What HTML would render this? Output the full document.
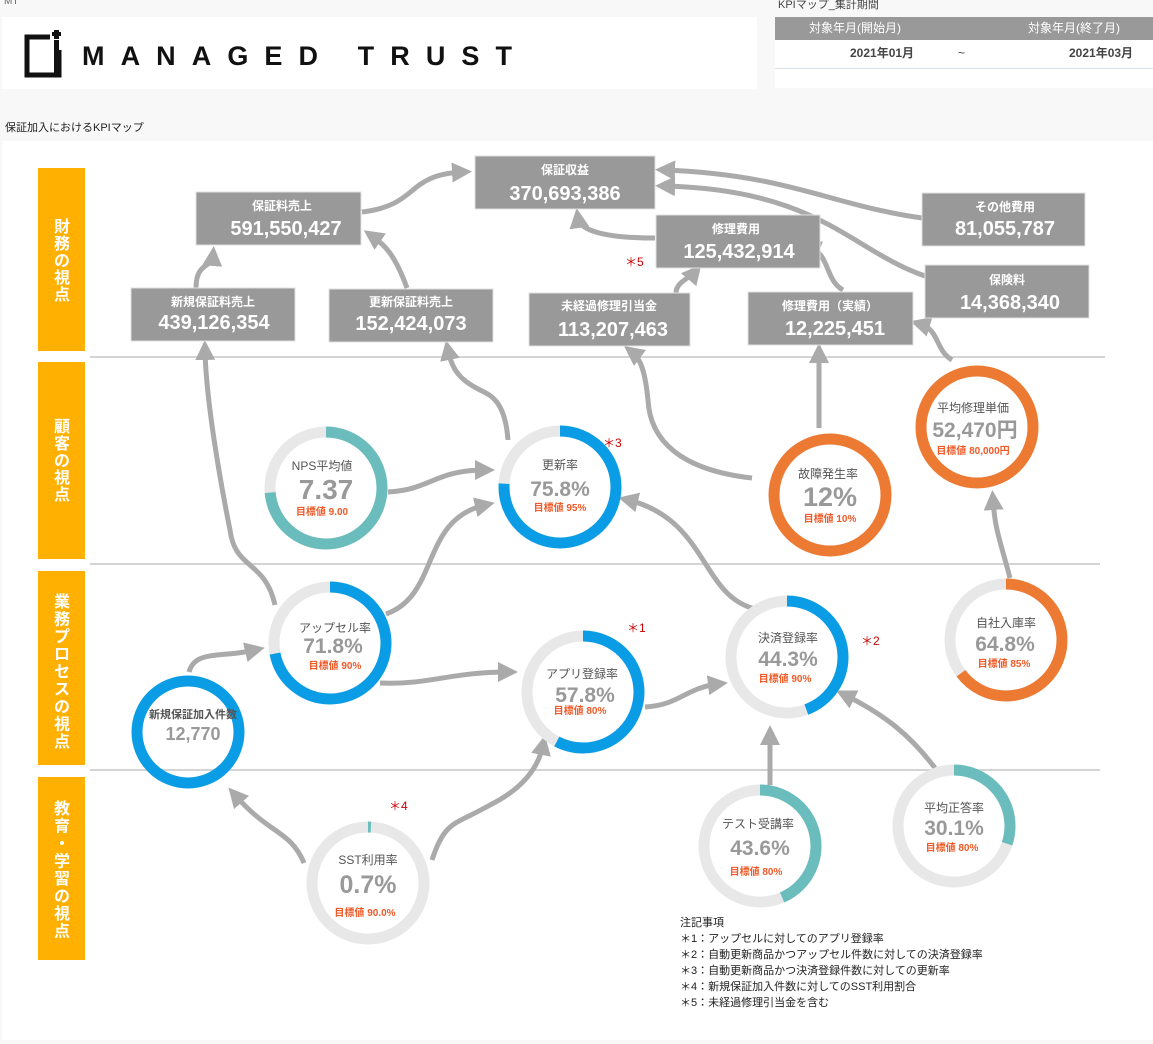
<!DOCTYPE html>
<html><head><meta charset="utf-8"><style>
body{margin:0;width:1153px;height:1044px;background:#f8f8f8;font-family:"Liberation Sans","Noto Sans CJK JP",sans-serif;overflow:hidden;position:relative}
.a{position:absolute}
</style></head><body>
<div class="a" style="left:4px;top:-4px;font-size:10px;color:#666">MT</div>
<div class="a" style="left:2px;top:17px;width:755px;height:72px;background:#fff"></div>
<svg class="a" style="left:22px;top:30px" width="520" height="50">
<rect x="5" y="7" width="32" height="38" fill="none" stroke="#111" stroke-width="5"/>
<rect x="28" y="0" width="14" height="20" fill="#fff"/>
<rect x="32" y="10" width="5" height="37" fill="#111"/>
<rect x="30" y="2" width="9" height="4" fill="#111"/><rect x="32" y="0" width="5" height="9" fill="#111"/>
<text x="60" y="35" font-family="Liberation Sans,sans-serif" font-size="27" font-weight="bold" textLength="430" lengthAdjust="spacing" fill="#111">MANAGED TRUST</text>
</svg>
<div class="a" style="left:778px;top:-4px;font-size:11px;color:#444">KPIマップ_集計期間</div>
<div class="a" style="left:775px;top:17px;width:378px;height:71px;background:#fff"></div>
<div class="a" style="left:775px;top:17px;width:378px;height:23px;background:#999;color:#fff;font-size:12px;line-height:23px"><span class="a" style="left:34px">対象年月(開始月)</span><span class="a" style="left:253px">対象年月(終了月)</span></div>
<div class="a" style="left:775px;top:40px;width:378px;height:28px;border-bottom:1px solid #dde3ea;font-size:12px;font-weight:bold;color:#444;line-height:26px"><span class="a" style="left:75px">2021年01月</span><span class="a" style="left:183px;font-weight:normal">~</span><span class="a" style="left:294px">2021年03月</span></div>
<div class="a" style="left:5px;top:119px;font-size:11px;color:#222">保証加入におけるKPIマップ</div>
<div class="a" style="left:2px;top:141px;width:1151px;height:899px;background:#fff"></div>
<svg class="a" style="left:0;top:0" width="1153" height="1044">
<defs><marker id="m" markerWidth="4" markerHeight="4" refX="2" refY="2" orient="auto" markerUnits="strokeWidth"><path d="M0,0 L4,2 L0,4Z" fill="#aaa"/></marker></defs>
<g fill="#FFB000">
<rect x="38" y="168" width="47" height="183"/><rect x="38" y="362" width="47" height="197"/><rect x="38" y="571" width="47" height="194"/><rect x="38" y="777" width="47" height="183"/></g>
<g fill="#fff" font-weight="bold" font-size="16" text-anchor="middle">
<text><tspan x="62" y="232">財</tspan><tspan x="62" dy="17">務</tspan><tspan x="62" dy="17">の</tspan><tspan x="62" dy="17">視</tspan><tspan x="62" dy="17">点</tspan></text>
<text><tspan x="62" y="432">顧</tspan><tspan x="62" dy="17">客</tspan><tspan x="62" dy="17">の</tspan><tspan x="62" dy="17">視</tspan><tspan x="62" dy="17">点</tspan></text>
<text><tspan x="62" y="607">業</tspan><tspan x="62" dy="17.5">務</tspan><tspan x="62" dy="17.5">プ</tspan><tspan x="62" dy="17.5">ロ</tspan><tspan x="62" dy="17.5">セ</tspan><tspan x="62" dy="17.5">ス</tspan><tspan x="62" dy="17.5">の</tspan><tspan x="62" dy="17.5">視</tspan><tspan x="62" dy="17.5">点</tspan></text>
<text><tspan x="62" y="814">教</tspan><tspan x="62" dy="17.5">育</tspan><tspan x="62" dy="17.5">・</tspan><tspan x="62" dy="17.5">学</tspan><tspan x="62" dy="17.5">習</tspan><tspan x="62" dy="17.5">の</tspan><tspan x="62" dy="17.5">視</tspan><tspan x="62" dy="17.5">点</tspan></text>
</g>
<g stroke="#d4d4d4" stroke-width="2"><line x1="90" y1="357" x2="1105" y2="357"/><line x1="90" y1="564" x2="1100" y2="564"/><line x1="90" y1="770" x2="1100" y2="770"/></g>
<g fill="none" stroke="#aaa" stroke-width="5" marker-end="url(#m)">
<path d="M362,212 C420,205 405,175 462,172"/>
<path d="M196,288 C196,262 212,268 213,256"/>
<path d="M407,288 C395,255 385,245 372,236"/>
<path d="M655,238 C610,238 580,232 578,218"/>
<path d="M922,218 C830,205 790,175 665,170"/>
<path d="M925,276 C850,250 820,190 665,186"/>
<path d="M843,290 C825,280 830,255 810,247"/>
<path d="M676,293 C676,282 690,278 695,272"/>
<path d="M952,360 C935,350 940,330 920,324"/>
<path d="M819,428 L819,353"/>
<path d="M752,478 C680,470 650,440 648,400 C645,370 640,358 632,352"/>
<path d="M508,440 C505,400 490,395 480,390 C460,380 452,370 448,350"/>
<path d="M388,492 C430,490 435,470 485,470"/>
<path d="M275,605 C265,560 235,570 230,530 C220,480 206,400 205,350"/>
<path d="M386,614 C440,595 420,520 485,505"/>
<path d="M380,683 C430,685 450,672 508,672"/>
<path d="M189,672 C195,650 220,658 255,650"/>
<path d="M304,863 C290,830 270,835 235,795"/>
<path d="M432,860 C445,820 455,825 490,805 C530,785 540,760 543,745"/>
<path d="M645,707 C680,705 685,688 718,684"/>
<path d="M760,610 C700,600 710,520 628,500"/>
<path d="M770,785 L770,735"/>
<path d="M935,768 C910,735 885,715 845,695"/>
<path d="M1010,578 C1000,540 995,530 993,500"/>
</g>
<g fill="#999" stroke="#e0e0e0">
<rect x="475" y="156" width="180" height="53"/><rect x="196" y="192" width="165" height="53"/>
<rect x="131" y="288" width="164" height="53"/><rect x="329" y="289" width="164" height="53"/>
<rect x="529" y="293" width="161" height="53"/><rect x="656" y="215" width="164" height="53"/>
<rect x="748" y="292" width="165" height="53"/><rect x="922" y="193" width="163" height="53"/>
<rect x="925" y="265" width="164" height="53"/></g>
<g fill="#fff" font-weight="bold" text-anchor="middle">
<g font-size="12"><text x="565" y="174">保証収益</text><text x="282" y="210">保証料売上</text><text x="213" y="306">新規保証料売上</text><text x="411" y="306">更新保証料売上</text><text x="609" y="310">未経過修理引当金</text><text x="736" y="233">修理費用</text><text x="830" y="310">修理費用（実績）</text><text x="1005" y="211">その他費用</text><text x="1007" y="284">保険料</text></g>
<g font-size="20"><text x="565" y="200">370,693,386</text><text x="286" y="235">591,550,427</text><text x="214" y="329">439,126,354</text><text x="411" y="330">152,424,073</text><text x="613" y="336">113,207,463</text><text x="739" y="258">125,432,914</text><text x="835" y="335">12,225,451</text><text x="1005" y="235">81,055,787</text><text x="1010" y="309">14,368,340</text></g>
</g>
<g fill="none" stroke-width="11">
<g stroke="#e8e8e8"><circle cx="326" cy="488" r="56"/><circle cx="560" cy="487" r="56"/><circle cx="330" cy="643" r="56"/><circle cx="583" cy="692" r="56"/><circle cx="787" cy="657" r="56"/><circle cx="1006" cy="640" r="56"/><circle cx="368" cy="883" r="56"/><circle cx="760" cy="846" r="56"/><circle cx="954" cy="826" r="56"/></g>
<circle cx="326" cy="488" r="56" stroke="#6BBCBC" stroke-dasharray="259 400" transform="rotate(-90 326 488)"/>
<circle cx="560" cy="487" r="56" stroke="#0A9DE6" stroke-dasharray="267 400" transform="rotate(-90 560 487)"/>
<circle cx="330" cy="643" r="56" stroke="#0A9DE6" stroke-dasharray="253 400" transform="rotate(-90 330 643)"/>
<circle cx="583" cy="692" r="56" stroke="#0A9DE6" stroke-dasharray="203 400" transform="rotate(-90 583 692)"/>
<circle cx="787" cy="657" r="56" stroke="#0A9DE6" stroke-dasharray="156 400" transform="rotate(-90 787 657)"/>
<circle cx="1006" cy="640" r="56" stroke="#EC7A33" stroke-dasharray="228 400" transform="rotate(-90 1006 640)"/>
<circle cx="368" cy="883" r="56" stroke="#6BBCBC" stroke-dasharray="3 400" transform="rotate(-90 368 883)"/>
<circle cx="760" cy="846" r="56" stroke="#6BBCBC" stroke-dasharray="153 400" transform="rotate(-90 760 846)"/>
<circle cx="954" cy="826" r="56" stroke="#6BBCBC" stroke-dasharray="106 400" transform="rotate(-90 954 826)"/>
<circle cx="830" cy="495" r="56" stroke="#EC7A33"/><circle cx="977" cy="427" r="56" stroke="#EC7A33"/><circle cx="188" cy="732" r="51" stroke="#0A9DE6"/>
</g>
<g text-anchor="middle">
<g fill="#555" font-size="12"><text x="322" y="470">NPS平均値</text><text x="560" y="469">更新率</text><text x="828" y="478">故障発生率</text><text x="973" y="412">平均修理単価</text><text x="335" y="632">アップセル率</text><text x="582" y="678">アプリ登録率</text><text x="788" y="642">決済登録率</text><text x="1006" y="627">自社入庫率</text><text x="193" y="718" font-size="11" font-weight="bold">新規保証加入件数</text><text x="368" y="864">SST利用率</text><text x="758" y="828">テスト受講率</text><text x="954" y="812">平均正答率</text></g>
<g fill="#999" font-weight="bold" font-size="21"><text x="326" y="499" font-size="28">7.37</text><text x="560" y="496">75.8%</text><text x="830" y="506" font-size="27">12%</text><text x="975" y="437">52,470円</text><text x="333" y="653">71.8%</text><text x="585" y="702">57.8%</text><text x="788" y="666">44.3%</text><text x="1005" y="651">64.8%</text><text x="193" y="740" font-size="18">12,770</text><text x="368" y="893" font-size="25">0.7%</text><text x="760" y="855">43.6%</text><text x="954" y="835">30.1%</text></g>
<g fill="#F05A28" font-weight="bold" font-size="10"><text x="322" y="515">目標値 9.00</text><text x="560" y="511">目標値 95%</text><text x="830" y="522">目標値 10%</text><text x="973" y="454">目標値 80,000円</text><text x="335" y="669">目標値 90%</text><text x="580" y="714">目標値 80%</text><text x="785" y="682">目標値 90%</text><text x="1004" y="667">目標値 85%</text><text x="365" y="916">目標値 90.0%</text><text x="756" y="875">目標値 80%</text><text x="952" y="851">目標値 80%</text></g>
</g>
<g fill="#cc0000" font-size="12"><text x="603" y="447">＊3</text><text x="627" y="632">＊1</text><text x="861" y="645">＊2</text><text x="389" y="810">＊4</text><text x="625" y="266">＊5</text></g>
<g fill="#222" font-size="11"><text x="680" y="926">注記事項</text><text x="680" y="942">＊1：アップセルに対してのアプリ登録率</text><text x="680" y="958">＊2：自動更新商品かつアップセル件数に対しての決済登録率</text><text x="680" y="974">＊3：自動更新商品かつ決済登録件数に対しての更新率</text><text x="680" y="990">＊4：新規保証加入件数に対してのSST利用割合</text><text x="680" y="1006">＊5：未経過修理引当金を含む</text></g>
</svg>
</body></html>
